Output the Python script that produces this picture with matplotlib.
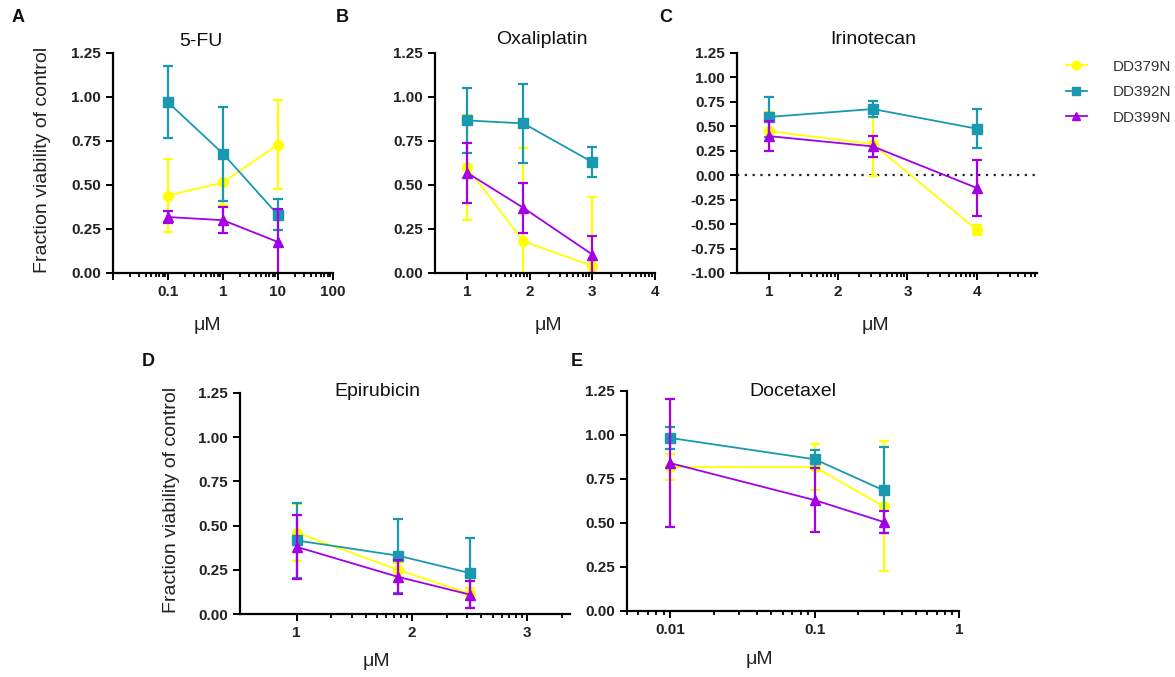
import numpy as np
import matplotlib
matplotlib.use("Agg")
import matplotlib.pyplot as plt
from matplotlib.ticker import FixedLocator, NullFormatter, LogLocator

plt.rcParams['font.family'] = ['Liberation Sans', 'DejaVu Sans']

# === Données ===
lines_names = ["DD379N", "DD392N", "DD399N"]
colors = ["#FFFF00", "#1A98B0", "#A300E6"]
markers = ["o", "s", "^"]

fu_x = [0.1, 1, 10]
fu_mean = [[0.44, 0.515, 0.73], [0.97, 0.678, 0.33], [0.318, 0.30, 0.176]]
fu_sd = [[0.205, 0.13, 0.255], [0.205, 0.268, 0.088], [0.035, 0.075, 0.185]]

oxa_x = [1, 1.9, 3.0]
oxa_mean = [[0.60, 0.18, 0.04], [0.867, 0.85, 0.63], [0.57, 0.37, 0.105]]
oxa_sd = [[0.30, 0.53, 0.39], [0.185, 0.225, 0.085], [0.17, 0.14, 0.105]]

iri_x = [1, 2.5, 4]
iri_mean = [[0.45, 0.32, -0.557], [0.596, 0.677, 0.476], [0.40, 0.295, -0.13]]
iri_sd = [[0.2, 0.33, 0.05], [0.2, 0.078, 0.2], [0.15, 0.105, 0.29]]

epi_x = [1, 1.88, 2.5]
epi_mean = [[0.46, 0.25, 0.115], [0.416, 0.33, 0.232], [0.38, 0.21, 0.11]]
epi_sd = [[0.16, 0.04, 0.03], [0.214, 0.21, 0.2], [0.18, 0.095, 0.075]]

doc_x = [0.01, 0.1, 0.3]
doc_mean = [[0.818, 0.818, 0.595], [0.983, 0.862, 0.686], [0.84, 0.63, 0.506]]
doc_sd = [[0.075, 0.13, 0.37], [0.06, 0.05, 0.245], [0.365, 0.18, 0.06]]

y_ticks = [0, 0.25, 0.5, 0.75, 1.0, 1.25]
y_ticks_c = [-1.0, -0.75, -0.5, -0.25, 0, 0.25, 0.5, 0.75, 1.0, 1.25]

fig = plt.figure(figsize=(11.75, 6.77), dpi=100)

W, H = 1175, 677
def add_ax(l, r, t, b):
    return fig.add_axes([l / W, 1 - b / H, (r - l) / W, (b - t) / H])

axA = add_ax(113, 333, 53, 273)
axB = add_ax(435, 655, 53, 273)
axC = add_ax(737, 1037, 53, 273)
axD = add_ax(240, 570, 393, 614)
axE = add_ax(627, 959, 391, 611)


def log_minor(lo, hi):
    # petites graduations façon log entre les entiers
    ticks = []
    for i in range(1, int(hi) + 1):
        for k in range(2, 10):
            t = i + np.log10(k)
            if lo < t < hi:
                ticks.append(t)
    return ticks


def draw(ax, x, means, sds):
    handles = []
    for m, s, c, mk in zip(means, sds, colors, markers):
        ax.errorbar(x, m, yerr=s, fmt='none', ecolor=c, elinewidth=1.6,
                    capsize=3.5, capthick=1.6)
        h, = ax.plot(x, m, color=c, marker=mk, markersize=7, lw=1.3,
                     markeredgecolor=c)
        handles.append(h)
    return handles


def style(ax, yticks):
    for sp in ['top', 'right']:
        ax.spines[sp].set_visible(False)
    for sp in ['left', 'bottom']:
        ax.spines[sp].set_linewidth(1.6)
    ax.set_yticks(yticks)
    ax.set_yticklabels([f"{v:.2f}" for v in yticks])
    ax.set_ylim(yticks[0], yticks[-1])
    ax.tick_params(axis='both', which='major', direction='out', length=5, width=1.4,
                   labelsize=11, labelcolor='#222222')
    ax.tick_params(axis='both', which='minor', direction='out', length=3, width=1.3)
    for lab in ax.get_xticklabels() + ax.get_yticklabels():
        lab.set_fontweight('bold')


# === A : 5-FU ===
handles = draw(axA, fu_x, fu_mean, fu_sd)
axA.set_xscale('log')
axA.set_xlim(0.01, 100)
axA.set_xticks([0.01, 0.1, 1, 10, 100], ['', '0.1', '1', '10', '100'])
axA.xaxis.set_minor_locator(LogLocator(base=10, subs=np.arange(2, 10)))
axA.xaxis.set_minor_formatter(NullFormatter())
style(axA, y_ticks)

# === B : Oxaliplatin ===
draw(axB, oxa_x, oxa_mean, oxa_sd)
axB.set_xlim(0.49, 4)
axB.set_xticks([1, 2, 3, 4])
axB.xaxis.set_minor_locator(FixedLocator(log_minor(0.49, 4)))
style(axB, y_ticks)

# === C : Irinotecan ===
axC.axhline(0, color='#222222', ls=(0, (1, 2.5)), lw=1.6, zorder=0)
draw(axC, iri_x, iri_mean, iri_sd)
axC.set_xlim(0.54, 4.87)
axC.set_xticks([1, 2, 3, 4])
axC.xaxis.set_minor_locator(FixedLocator(log_minor(0.54, 4.87)))
style(axC, y_ticks_c)

# === D : Epirubicin ===
draw(axD, epi_x, epi_mean, epi_sd)
axD.set_xlim(0.51, 3.37)
axD.set_xticks([1, 2, 3])
axD.xaxis.set_minor_locator(FixedLocator(log_minor(0.51, 3.37)))
style(axD, y_ticks)

# === E : Docetaxel ===
draw(axE, doc_x, doc_mean, doc_sd)
axE.set_xscale('log')
axE.set_xlim(0.005, 1)
axE.set_xticks([0.01, 0.1, 1], ['0.01', '0.1', '1'])
axE.xaxis.set_minor_locator(LogLocator(base=10, subs=np.arange(2, 10)))
axE.xaxis.set_minor_formatter(NullFormatter())
style(axE, y_ticks)

# === Titres, labels ===
titles = [(201, 42, "5-FU"), (542, 40, "Oxaliplatin"), (873, 40, "Irinotecan"),
          (377, 392, "Epirubicin"), (793, 392, "Docetaxel")]
for x, y, t in titles:
    fig.text(x / W, 1 - y / H, t, ha='center', va='center', fontsize=14, color='#111111')

for x, y in [(207, 325), (548, 325), (875, 325), (376, 662), (759, 660)]:
    fig.text(x / W, 1 - y / H, "μM", ha='center', va='center', fontsize=14, color='#222222')

for x, y in [(43, 160), (171, 500)]:
    fig.text(x / W, 1 - y / H, "Fraction viability of control", ha='center', va='center',
             rotation=90, fontsize=14, color='#222222')

for x, y, t in [(18, 18, "A"), (342, 18, "B"), (666, 18, "C"), (148, 362, "D"), (577, 362, "E")]:
    fig.text(x / W, 1 - y / H, t, ha='center', va='center', fontsize=13,
             fontweight='bold', color='#111111')

fig.legend(handles, lines_names, loc='upper left', bbox_to_anchor=(1052 / W, 1 - 46 / H),
           frameon=False, fontsize=11, handlelength=1.4, handletextpad=1.7,
           labelspacing=0.75, markerscale=0.9, labelcolor='#333333')

fig.savefig("out.png", dpi=100)
